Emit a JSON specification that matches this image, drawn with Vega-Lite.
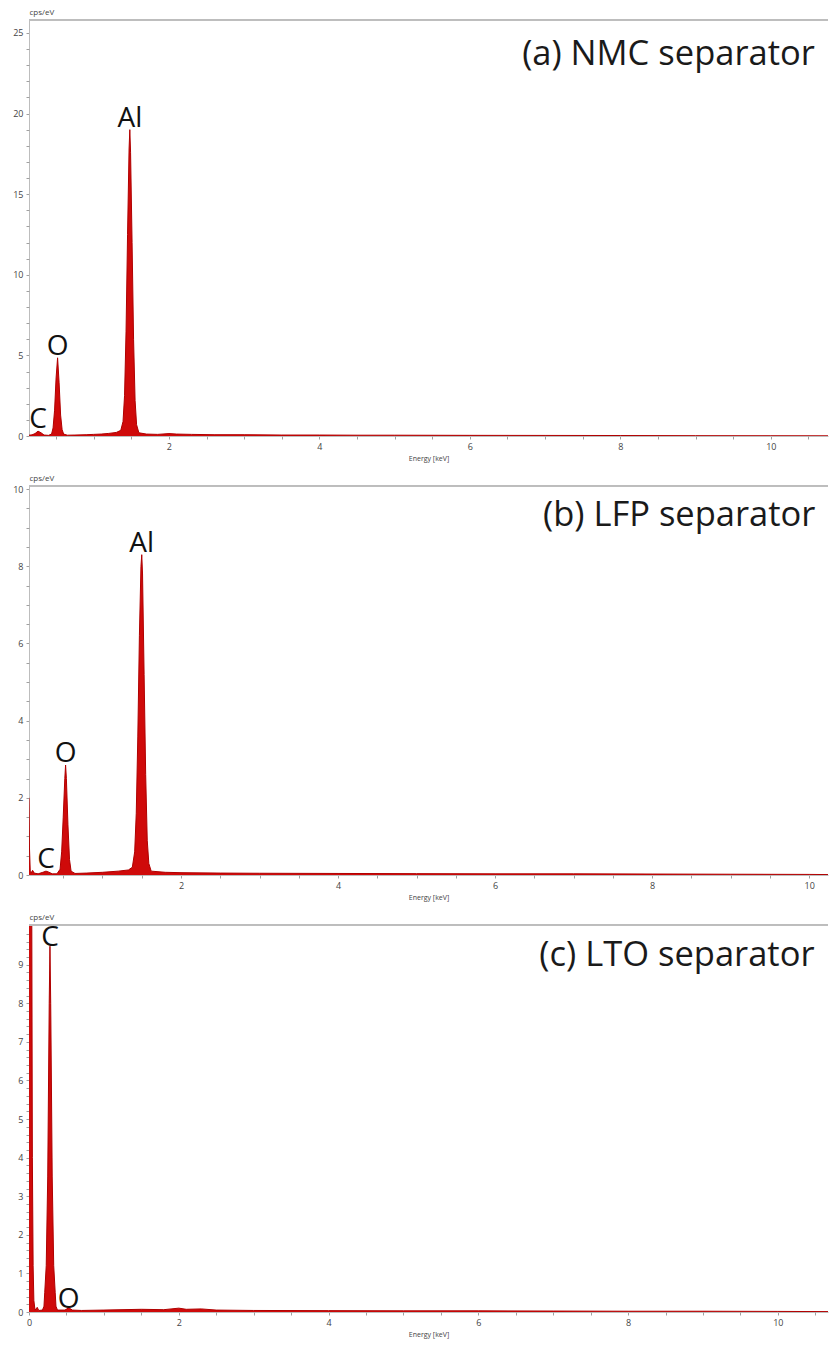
{
  "$schema": "https://vega.github.io/schema/vega-lite/v6.json",
  "background": "white",
  "padding": {"left": 12, "top": 8, "right": 2, "bottom": 5},
  "spacing": 50,
  "bounds": "flush",
  "config": {
    "view": {"stroke": null},
    "axis": {
      "domainColor": "#bdbdbd",
      "tickColor": "#a0a0a0",
      "tickSize": 3,
      "tickCount": 200,
      "labelColor": "#444444",
      "labelFont": "Open Sans",
      "labelFontSize": 9,
      "labelPadding": 3,
      "labelOverlap": false,
      "labelFlush": false,
      "titleFont": "Open Sans",
      "titleFontSize": 8,
      "titleFontWeight": "normal",
      "titleColor": "#444444",
      "grid": false
    }
  },
  "datasets": {
    "nmc": [
      {"energy": 0.14, "cps": 0.05},
      {"energy": 0.18, "cps": 0.07},
      {"energy": 0.22, "cps": 0.15},
      {"energy": 0.26, "cps": 0.3, "peak": "C"},
      {"energy": 0.30, "cps": 0.2},
      {"energy": 0.34, "cps": 0.06},
      {"energy": 0.40, "cps": 0.04},
      {"energy": 0.44, "cps": 0.12},
      {"energy": 0.46, "cps": 0.5},
      {"energy": 0.48, "cps": 1.6},
      {"energy": 0.50, "cps": 3.6},
      {"energy": 0.52, "cps": 4.85, "peak": "O"},
      {"energy": 0.54, "cps": 3.3},
      {"energy": 0.56, "cps": 1.3},
      {"energy": 0.58, "cps": 0.4},
      {"energy": 0.60, "cps": 0.12},
      {"energy": 0.65, "cps": 0.05},
      {"energy": 0.75, "cps": 0.06},
      {"energy": 0.90, "cps": 0.08},
      {"energy": 1.00, "cps": 0.1},
      {"energy": 1.10, "cps": 0.12},
      {"energy": 1.20, "cps": 0.16},
      {"energy": 1.30, "cps": 0.22},
      {"energy": 1.36, "cps": 0.35},
      {"energy": 1.39, "cps": 0.9},
      {"energy": 1.41, "cps": 2.5},
      {"energy": 1.43, "cps": 6.5},
      {"energy": 1.45, "cps": 12.5},
      {"energy": 1.47, "cps": 17.8},
      {"energy": 1.48, "cps": 19.0, "peak": "Al"},
      {"energy": 1.49, "cps": 17.6},
      {"energy": 1.51, "cps": 12.0},
      {"energy": 1.53, "cps": 6.0},
      {"energy": 1.55, "cps": 2.2},
      {"energy": 1.57, "cps": 0.7},
      {"energy": 1.60, "cps": 0.2},
      {"energy": 1.70, "cps": 0.12},
      {"energy": 1.85, "cps": 0.1},
      {"energy": 2.00, "cps": 0.15},
      {"energy": 2.10, "cps": 0.12},
      {"energy": 2.30, "cps": 0.1},
      {"energy": 2.60, "cps": 0.08},
      {"energy": 3.00, "cps": 0.08},
      {"energy": 3.50, "cps": 0.06},
      {"energy": 4.00, "cps": 0.06},
      {"energy": 4.50, "cps": 0.05},
      {"energy": 5.00, "cps": 0.05},
      {"energy": 6.00, "cps": 0.04},
      {"energy": 7.00, "cps": 0.035},
      {"energy": 8.00, "cps": 0.03},
      {"energy": 9.00, "cps": 0.02},
      {"energy": 10.00, "cps": 0.015},
      {"energy": 10.80, "cps": 0.01}
    ],
    "lfp": [
      {"energy": 0.064, "cps": 2.0},
      {"energy": 0.07, "cps": 0.7},
      {"energy": 0.08, "cps": 0.1},
      {"energy": 0.09, "cps": 0.05},
      {"energy": 0.11, "cps": 0.12},
      {"energy": 0.13, "cps": 0.05},
      {"energy": 0.18, "cps": 0.03},
      {"energy": 0.24, "cps": 0.07},
      {"energy": 0.28, "cps": 0.1, "peak": "C"},
      {"energy": 0.31, "cps": 0.08},
      {"energy": 0.36, "cps": 0.03},
      {"energy": 0.42, "cps": 0.03},
      {"energy": 0.46, "cps": 0.15},
      {"energy": 0.48, "cps": 0.6},
      {"energy": 0.50, "cps": 1.5},
      {"energy": 0.52, "cps": 2.5},
      {"energy": 0.53, "cps": 2.85, "peak": "O"},
      {"energy": 0.54, "cps": 2.5},
      {"energy": 0.56, "cps": 1.3},
      {"energy": 0.58, "cps": 0.4},
      {"energy": 0.60, "cps": 0.1},
      {"energy": 0.65, "cps": 0.04},
      {"energy": 0.80, "cps": 0.05},
      {"energy": 1.00, "cps": 0.07},
      {"energy": 1.20, "cps": 0.1},
      {"energy": 1.33, "cps": 0.13},
      {"energy": 1.38, "cps": 0.2},
      {"energy": 1.41, "cps": 0.6},
      {"energy": 1.43, "cps": 1.6},
      {"energy": 1.45, "cps": 3.6},
      {"energy": 1.47, "cps": 6.2},
      {"energy": 1.49, "cps": 8.0},
      {"energy": 1.50, "cps": 8.3, "peak": "Al"},
      {"energy": 1.51, "cps": 7.8},
      {"energy": 1.53, "cps": 5.2},
      {"energy": 1.55, "cps": 2.6},
      {"energy": 1.57, "cps": 0.9},
      {"energy": 1.59, "cps": 0.3},
      {"energy": 1.62, "cps": 0.1},
      {"energy": 1.80, "cps": 0.07},
      {"energy": 2.00, "cps": 0.06},
      {"energy": 2.50, "cps": 0.05},
      {"energy": 3.00, "cps": 0.045},
      {"energy": 4.00, "cps": 0.04},
      {"energy": 5.00, "cps": 0.035},
      {"energy": 6.00, "cps": 0.03},
      {"energy": 7.00, "cps": 0.03},
      {"energy": 8.00, "cps": 0.025},
      {"energy": 9.00, "cps": 0.02},
      {"energy": 10.00, "cps": 0.015},
      {"energy": 10.30, "cps": 0.01}
    ],
    "lto": [
      {"energy": 0.0, "cps": 12},
      {"energy": 0.035, "cps": 12},
      {"energy": 0.045, "cps": 4},
      {"energy": 0.055, "cps": 1.2},
      {"energy": 0.065, "cps": 0.3},
      {"energy": 0.08, "cps": 0.05},
      {"energy": 0.11, "cps": 0.12},
      {"energy": 0.13, "cps": 0.04},
      {"energy": 0.18, "cps": 0.05},
      {"energy": 0.20, "cps": 0.15},
      {"energy": 0.21, "cps": 0.5},
      {"energy": 0.23, "cps": 1.2},
      {"energy": 0.25, "cps": 3.5},
      {"energy": 0.27, "cps": 8.0},
      {"energy": 0.28, "cps": 9.48, "peak": "C"},
      {"energy": 0.29, "cps": 8.0},
      {"energy": 0.31, "cps": 3.5},
      {"energy": 0.33, "cps": 1.2},
      {"energy": 0.35, "cps": 0.5},
      {"energy": 0.36, "cps": 0.15},
      {"energy": 0.38, "cps": 0.05},
      {"energy": 0.48, "cps": 0.05},
      {"energy": 0.53, "cps": 0.11, "peak": "O"},
      {"energy": 0.58, "cps": 0.05},
      {"energy": 0.70, "cps": 0.04},
      {"energy": 1.00, "cps": 0.05},
      {"energy": 1.50, "cps": 0.07},
      {"energy": 1.80, "cps": 0.06},
      {"energy": 2.00, "cps": 0.1},
      {"energy": 2.10, "cps": 0.07},
      {"energy": 2.30, "cps": 0.08},
      {"energy": 2.50, "cps": 0.05},
      {"energy": 3.00, "cps": 0.04},
      {"energy": 4.00, "cps": 0.035},
      {"energy": 5.00, "cps": 0.03},
      {"energy": 6.00, "cps": 0.03},
      {"energy": 7.00, "cps": 0.025},
      {"energy": 8.00, "cps": 0.02},
      {"energy": 9.00, "cps": 0.02},
      {"energy": 10.00, "cps": 0.015},
      {"energy": 10.70, "cps": 0.01}
    ]
  },
  "vconcat": [
    {
      "width": 799,
      "height": 416,
      "data": {"name": "nmc"},
      "resolve": {"axis": {"x": "independent", "y": "independent"}},
      "layer": [
        {
          "mark": {"type": "area", "color": "#cf0a0a", "opacity": 1, "clip": true, "line": {"color": "#b00000", "strokeWidth": 1}},
          "encoding": {
            "x": {"field": "energy", "type": "quantitative", "scale": {"domain": [0.14, 10.76], "nice": false, "zero": false},
              "axis": {"orient": "bottom", "title": "Energy [keV]", "titleFontSize": 7, "titlePadding": 3, "tickCount": 200, "values": [2, 4, 6, 8, 10], "format": "d"}},
            "y": {"field": "cps", "type": "quantitative", "scale": {"domain": [0, 25.8], "nice": false},
              "axis": {"orient": "left", "title": "cps/eV", "titleAngle": 0, "titleX": 0, "titleY": -4, "titleAlign": "left", "titleBaseline": "bottom", "tickCount": 200, "values": [0, 5, 10, 15, 20, 25], "format": "d"}}
          }
        },
        {
          "transform": [{"filter": "datum.peak"}],
          "mark": {"type": "text", "font": "Open Sans", "fontSize": 28, "baseline": "alphabetic", "dy": -3, "color": "#111111"},
          "encoding": {
            "x": {"field": "energy", "type": "quantitative", "axis": {"orient": "bottom", "title": null, "labels": false, "domain": false, "tickCount": 200, "values": [0.5,1,1.5,2.5,3,3.5,4.5,5,5.5,6.5,7,7.5,8.5,9,9.5,10.5]}},
            "y": {"field": "cps", "type": "quantitative", "axis": {"orient": "left", "title": null, "labels": false, "domain": false, "tickCount": 200, "values": [1,2,3,4,6,7,8,9,11,12,13,14,16,17,18,19,21,22,23,24]}},
            "text": {"field": "peak"}
          }
        },
        {"mark": {"type": "rule", "color": "#bdbdbd"}, "encoding": {"y": {"datum": 25.8, "type": "quantitative", "axis": null}}},
        {
          "data": {"values": [{"label": "(a) NMC separator"}]},
          "mark": {"type": "text", "font": "Open Sans", "fontSize": 34.5, "align": "right", "baseline": "alphabetic", "color": "#1a1a1a"},
          "encoding": {"x": {"datum": 10.585, "type": "quantitative", "axis": null}, "y": {"datum": 23.0, "type": "quantitative", "axis": null}, "text": {"field": "label"}}
        }
      ]
    },
    {
      "width": 799,
      "height": 389,
      "data": {"name": "lfp"},
      "resolve": {"axis": {"x": "independent", "y": "independent"}},
      "layer": [
        {
          "mark": {"type": "area", "color": "#cf0a0a", "opacity": 1, "clip": true, "line": {"color": "#b00000", "strokeWidth": 1}},
          "encoding": {
            "x": {"field": "energy", "type": "quantitative", "scale": {"domain": [0.064, 10.24], "nice": false, "zero": false},
              "axis": {"orient": "bottom", "title": "Energy [keV]", "titleFontSize": 7, "titlePadding": 3, "tickCount": 200, "values": [2, 4, 6, 8, 10], "format": "d"}},
            "y": {"field": "cps", "type": "quantitative", "scale": {"domain": [0, 10.08], "nice": false},
              "axis": {"orient": "left", "title": "cps/eV", "titleAngle": 0, "titleX": 0, "titleY": -4, "titleAlign": "left", "titleBaseline": "bottom", "tickCount": 200, "values": [0, 2, 4, 6, 8, 10], "format": "d"}}
          }
        },
        {
          "transform": [{"filter": "datum.peak"}],
          "mark": {"type": "text", "font": "Open Sans", "fontSize": 28, "baseline": "alphabetic", "dy": -3, "color": "#111111"},
          "encoding": {
            "x": {"field": "energy", "type": "quantitative", "axis": {"orient": "bottom", "title": null, "labels": false, "domain": false, "tickCount": 200, "values": [0.5,1,1.5,2.5,3,3.5,4.5,5,5.5,6.5,7,7.5,8.5,9,9.5]}},
            "y": {"field": "cps", "type": "quantitative", "axis": {"orient": "left", "title": null, "labels": false, "domain": false, "tickCount": 200, "values": [0.5,1,1.5,2.5,3,3.5,4.5,5,5.5,6.5,7,7.5,8.5,9,9.5]}},
            "text": {"field": "peak"}
          }
        },
        {"mark": {"type": "rule", "color": "#bdbdbd"}, "encoding": {"y": {"datum": 10.08, "type": "quantitative", "axis": null}}},
        {
          "data": {"values": [{"label": "(b) LFP separator"}]},
          "mark": {"type": "text", "font": "Open Sans", "fontSize": 34.5, "align": "right", "baseline": "alphabetic", "color": "#1a1a1a"},
          "encoding": {"x": {"datum": 10.08, "type": "quantitative", "axis": null}, "y": {"datum": 9.04, "type": "quantitative", "axis": null}, "text": {"field": "label"}}
        }
      ]
    },
    {
      "width": 799,
      "height": 387,
      "data": {"name": "lto"},
      "resolve": {"axis": {"x": "independent", "y": "independent"}},
      "layer": [
        {
          "mark": {"type": "area", "color": "#cf0a0a", "opacity": 1, "clip": true, "line": {"color": "#b00000", "strokeWidth": 1}},
          "encoding": {
            "x": {"field": "energy", "type": "quantitative", "scale": {"domain": [0, 10.67], "nice": false, "zero": false},
              "axis": {"orient": "bottom", "title": "Energy [keV]", "titleFontSize": 7, "titlePadding": 3, "tickCount": 200, "values": [0, 2, 4, 6, 8, 10], "format": "d"}},
            "y": {"field": "cps", "type": "quantitative", "scale": {"domain": [0, 10.03], "nice": false},
              "axis": {"orient": "left", "title": "cps/eV", "titleAngle": 0, "titleX": 0, "titleY": -4, "titleAlign": "left", "titleBaseline": "bottom", "tickCount": 200, "values": [0, 1, 2, 3, 4, 5, 6, 7, 8, 9], "format": "d"}}
          }
        },
        {
          "transform": [{"filter": "datum.peak"}],
          "mark": {"type": "text", "font": "Open Sans", "fontSize": 28, "baseline": "alphabetic", "dy": 0, "color": "#111111"},
          "encoding": {
            "x": {"field": "energy", "type": "quantitative", "axis": {"orient": "bottom", "title": null, "labels": false, "domain": false, "tickCount": 200, "values": [0.5,1,1.5,2.5,3,3.5,4.5,5,5.5,6.5,7,7.5,8.5,9,9.5,10.5]}},
            "y": {"field": "cps", "type": "quantitative", "axis": {"orient": "left", "title": null, "labels": false, "domain": false, "tickCount": 200, "values": [0.2,0.4,0.6,0.8,1.2,1.4,1.6,1.8,2.2,2.4,2.6,2.8,3.2,3.4,3.6,3.8,4.2,4.4,4.6,4.8,5.2,5.4,5.6,5.8,6.2,6.4,6.6,6.8,7.2,7.4,7.6,7.8,8.2,8.4,8.6,8.8,9.2,9.4,9.6,9.8]}},
            "text": {"field": "peak"}
          }
        },
        {"mark": {"type": "rule", "color": "#bdbdbd"}, "encoding": {"y": {"datum": 10.03, "type": "quantitative", "axis": null}}},
        {
          "data": {"values": [{"label": "(c) LTO separator"}]},
          "mark": {"type": "text", "font": "Open Sans", "fontSize": 34.5, "align": "right", "baseline": "alphabetic", "color": "#1a1a1a"},
          "encoding": {"x": {"datum": 10.49, "type": "quantitative", "axis": null}, "y": {"datum": 8.97, "type": "quantitative", "axis": null}, "text": {"field": "label"}}
        }
      ]
    }
  ]
}
